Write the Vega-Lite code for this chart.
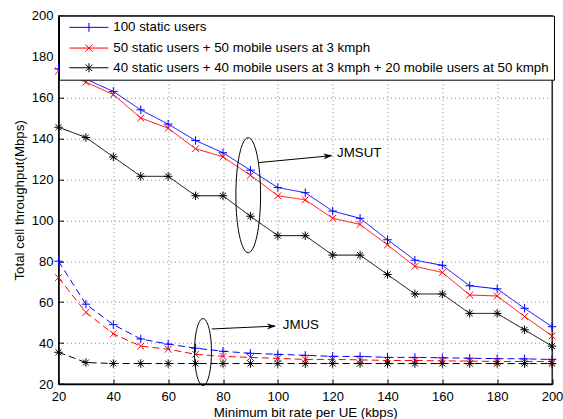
{
  "$schema": "https://vega.github.io/schema/vega-lite/v6.json",
  "width": 493.5,
  "height": 368.3,
  "autosize": {"type": "none"},
  "padding": {"left": 58.5, "top": 15.7, "right": 11, "bottom": 35},
  "background": "white",
  "config": {
    "font": "Liberation Sans",
    "view": {"stroke": "black", "strokeWidth": 1.3},
    "axis": {
      "domainColor": "black", "domainWidth": 1.3,
      "tickColor": "black", "tickSize": -5, "tickWidth": 1,
      "labelFont": "Liberation Sans", "labelFontSize": 13, "labelColor": "black",
      "titleFont": "Liberation Sans", "titleFontSize": 13.3, "titleFontWeight": "normal", "titleColor": "black",
      "gridColor": "#888888", "gridDash": [1, 3], "gridWidth": 1, "gridOpacity": 1
    },
    "legend": {"labelLimit": 700, "fillColor": "white", "strokeColor": "black"}
  },
  "datasets": {
    "series": [
      {"rate": 20, "throughput": 174, "config": "100 static users", "scheme": "JMSUT"},
      {"rate": 30, "throughput": 169, "config": "100 static users", "scheme": "JMSUT"},
      {"rate": 40, "throughput": 163, "config": "100 static users", "scheme": "JMSUT"},
      {"rate": 50, "throughput": 154, "config": "100 static users", "scheme": "JMSUT"},
      {"rate": 60, "throughput": 147, "config": "100 static users", "scheme": "JMSUT"},
      {"rate": 70, "throughput": 139, "config": "100 static users", "scheme": "JMSUT"},
      {"rate": 80, "throughput": 133, "config": "100 static users", "scheme": "JMSUT"},
      {"rate": 90, "throughput": 124.5, "config": "100 static users", "scheme": "JMSUT"},
      {"rate": 100, "throughput": 116, "config": "100 static users", "scheme": "JMSUT"},
      {"rate": 110, "throughput": 113.5, "config": "100 static users", "scheme": "JMSUT"},
      {"rate": 120, "throughput": 104.5, "config": "100 static users", "scheme": "JMSUT"},
      {"rate": 130, "throughput": 101, "config": "100 static users", "scheme": "JMSUT"},
      {"rate": 140, "throughput": 90.5, "config": "100 static users", "scheme": "JMSUT"},
      {"rate": 150, "throughput": 80.5, "config": "100 static users", "scheme": "JMSUT"},
      {"rate": 160, "throughput": 78, "config": "100 static users", "scheme": "JMSUT"},
      {"rate": 170, "throughput": 68, "config": "100 static users", "scheme": "JMSUT"},
      {"rate": 180, "throughput": 66.5, "config": "100 static users", "scheme": "JMSUT"},
      {"rate": 190, "throughput": 57, "config": "100 static users", "scheme": "JMSUT"},
      {"rate": 200, "throughput": 48, "config": "100 static users", "scheme": "JMSUT"},
      {"rate": 20, "throughput": 173, "config": "50 static users + 50 mobile users at 3 kmph", "scheme": "JMSUT"},
      {"rate": 30, "throughput": 167.5, "config": "50 static users + 50 mobile users at 3 kmph", "scheme": "JMSUT"},
      {"rate": 40, "throughput": 161.5, "config": "50 static users + 50 mobile users at 3 kmph", "scheme": "JMSUT"},
      {"rate": 50, "throughput": 150, "config": "50 static users + 50 mobile users at 3 kmph", "scheme": "JMSUT"},
      {"rate": 60, "throughput": 145, "config": "50 static users + 50 mobile users at 3 kmph", "scheme": "JMSUT"},
      {"rate": 70, "throughput": 135, "config": "50 static users + 50 mobile users at 3 kmph", "scheme": "JMSUT"},
      {"rate": 80, "throughput": 131, "config": "50 static users + 50 mobile users at 3 kmph", "scheme": "JMSUT"},
      {"rate": 90, "throughput": 122, "config": "50 static users + 50 mobile users at 3 kmph", "scheme": "JMSUT"},
      {"rate": 100, "throughput": 112, "config": "50 static users + 50 mobile users at 3 kmph", "scheme": "JMSUT"},
      {"rate": 110, "throughput": 110, "config": "50 static users + 50 mobile users at 3 kmph", "scheme": "JMSUT"},
      {"rate": 120, "throughput": 101, "config": "50 static users + 50 mobile users at 3 kmph", "scheme": "JMSUT"},
      {"rate": 130, "throughput": 98, "config": "50 static users + 50 mobile users at 3 kmph", "scheme": "JMSUT"},
      {"rate": 140, "throughput": 88, "config": "50 static users + 50 mobile users at 3 kmph", "scheme": "JMSUT"},
      {"rate": 150, "throughput": 77.5, "config": "50 static users + 50 mobile users at 3 kmph", "scheme": "JMSUT"},
      {"rate": 160, "throughput": 74.5, "config": "50 static users + 50 mobile users at 3 kmph", "scheme": "JMSUT"},
      {"rate": 170, "throughput": 63.5, "config": "50 static users + 50 mobile users at 3 kmph", "scheme": "JMSUT"},
      {"rate": 180, "throughput": 63, "config": "50 static users + 50 mobile users at 3 kmph", "scheme": "JMSUT"},
      {"rate": 190, "throughput": 53, "config": "50 static users + 50 mobile users at 3 kmph", "scheme": "JMSUT"},
      {"rate": 200, "throughput": 43.5, "config": "50 static users + 50 mobile users at 3 kmph", "scheme": "JMSUT"},
      {"rate": 20, "throughput": 145.5, "config": "40 static users + 40 mobile users at 3 kmph + 20 mobile users at 50 kmph", "scheme": "JMSUT"},
      {"rate": 30, "throughput": 140.5, "config": "40 static users + 40 mobile users at 3 kmph + 20 mobile users at 50 kmph", "scheme": "JMSUT"},
      {"rate": 40, "throughput": 131, "config": "40 static users + 40 mobile users at 3 kmph + 20 mobile users at 50 kmph", "scheme": "JMSUT"},
      {"rate": 50, "throughput": 121.5, "config": "40 static users + 40 mobile users at 3 kmph + 20 mobile users at 50 kmph", "scheme": "JMSUT"},
      {"rate": 60, "throughput": 121.5, "config": "40 static users + 40 mobile users at 3 kmph + 20 mobile users at 50 kmph", "scheme": "JMSUT"},
      {"rate": 70, "throughput": 112, "config": "40 static users + 40 mobile users at 3 kmph + 20 mobile users at 50 kmph", "scheme": "JMSUT"},
      {"rate": 80, "throughput": 112, "config": "40 static users + 40 mobile users at 3 kmph + 20 mobile users at 50 kmph", "scheme": "JMSUT"},
      {"rate": 90, "throughput": 102, "config": "40 static users + 40 mobile users at 3 kmph + 20 mobile users at 50 kmph", "scheme": "JMSUT"},
      {"rate": 100, "throughput": 92.5, "config": "40 static users + 40 mobile users at 3 kmph + 20 mobile users at 50 kmph", "scheme": "JMSUT"},
      {"rate": 110, "throughput": 92.5, "config": "40 static users + 40 mobile users at 3 kmph + 20 mobile users at 50 kmph", "scheme": "JMSUT"},
      {"rate": 120, "throughput": 83, "config": "40 static users + 40 mobile users at 3 kmph + 20 mobile users at 50 kmph", "scheme": "JMSUT"},
      {"rate": 130, "throughput": 83, "config": "40 static users + 40 mobile users at 3 kmph + 20 mobile users at 50 kmph", "scheme": "JMSUT"},
      {"rate": 140, "throughput": 73.5, "config": "40 static users + 40 mobile users at 3 kmph + 20 mobile users at 50 kmph", "scheme": "JMSUT"},
      {"rate": 150, "throughput": 64, "config": "40 static users + 40 mobile users at 3 kmph + 20 mobile users at 50 kmph", "scheme": "JMSUT"},
      {"rate": 160, "throughput": 64, "config": "40 static users + 40 mobile users at 3 kmph + 20 mobile users at 50 kmph", "scheme": "JMSUT"},
      {"rate": 170, "throughput": 54.5, "config": "40 static users + 40 mobile users at 3 kmph + 20 mobile users at 50 kmph", "scheme": "JMSUT"},
      {"rate": 180, "throughput": 54.5, "config": "40 static users + 40 mobile users at 3 kmph + 20 mobile users at 50 kmph", "scheme": "JMSUT"},
      {"rate": 190, "throughput": 46.5, "config": "40 static users + 40 mobile users at 3 kmph + 20 mobile users at 50 kmph", "scheme": "JMSUT"},
      {"rate": 200, "throughput": 38.5, "config": "40 static users + 40 mobile users at 3 kmph + 20 mobile users at 50 kmph", "scheme": "JMSUT"},
      {"rate": 20, "throughput": 80, "config": "100 static users", "scheme": "JMUS"},
      {"rate": 30, "throughput": 59, "config": "100 static users", "scheme": "JMUS"},
      {"rate": 40, "throughput": 49, "config": "100 static users", "scheme": "JMUS"},
      {"rate": 50, "throughput": 42, "config": "100 static users", "scheme": "JMUS"},
      {"rate": 60, "throughput": 39.5, "config": "100 static users", "scheme": "JMUS"},
      {"rate": 70, "throughput": 37.5, "config": "100 static users", "scheme": "JMUS"},
      {"rate": 80, "throughput": 36, "config": "100 static users", "scheme": "JMUS"},
      {"rate": 90, "throughput": 35, "config": "100 static users", "scheme": "JMUS"},
      {"rate": 100, "throughput": 34.5, "config": "100 static users", "scheme": "JMUS"},
      {"rate": 110, "throughput": 34, "config": "100 static users", "scheme": "JMUS"},
      {"rate": 120, "throughput": 33.5, "config": "100 static users", "scheme": "JMUS"},
      {"rate": 130, "throughput": 33.5, "config": "100 static users", "scheme": "JMUS"},
      {"rate": 140, "throughput": 33, "config": "100 static users", "scheme": "JMUS"},
      {"rate": 150, "throughput": 33, "config": "100 static users", "scheme": "JMUS"},
      {"rate": 160, "throughput": 32.8, "config": "100 static users", "scheme": "JMUS"},
      {"rate": 170, "throughput": 32.6, "config": "100 static users", "scheme": "JMUS"},
      {"rate": 180, "throughput": 32.4, "config": "100 static users", "scheme": "JMUS"},
      {"rate": 190, "throughput": 32.3, "config": "100 static users", "scheme": "JMUS"},
      {"rate": 200, "throughput": 32, "config": "100 static users", "scheme": "JMUS"},
      {"rate": 20, "throughput": 72, "config": "50 static users + 50 mobile users at 3 kmph", "scheme": "JMUS"},
      {"rate": 30, "throughput": 55, "config": "50 static users + 50 mobile users at 3 kmph", "scheme": "JMUS"},
      {"rate": 40, "throughput": 44.5, "config": "50 static users + 50 mobile users at 3 kmph", "scheme": "JMUS"},
      {"rate": 50, "throughput": 38.5, "config": "50 static users + 50 mobile users at 3 kmph", "scheme": "JMUS"},
      {"rate": 60, "throughput": 37, "config": "50 static users + 50 mobile users at 3 kmph", "scheme": "JMUS"},
      {"rate": 70, "throughput": 34.5, "config": "50 static users + 50 mobile users at 3 kmph", "scheme": "JMUS"},
      {"rate": 80, "throughput": 33.5, "config": "50 static users + 50 mobile users at 3 kmph", "scheme": "JMUS"},
      {"rate": 90, "throughput": 33, "config": "50 static users + 50 mobile users at 3 kmph", "scheme": "JMUS"},
      {"rate": 100, "throughput": 32.5, "config": "50 static users + 50 mobile users at 3 kmph", "scheme": "JMUS"},
      {"rate": 110, "throughput": 32, "config": "50 static users + 50 mobile users at 3 kmph", "scheme": "JMUS"},
      {"rate": 120, "throughput": 32, "config": "50 static users + 50 mobile users at 3 kmph", "scheme": "JMUS"},
      {"rate": 130, "throughput": 31.8, "config": "50 static users + 50 mobile users at 3 kmph", "scheme": "JMUS"},
      {"rate": 140, "throughput": 31.5, "config": "50 static users + 50 mobile users at 3 kmph", "scheme": "JMUS"},
      {"rate": 150, "throughput": 31.5, "config": "50 static users + 50 mobile users at 3 kmph", "scheme": "JMUS"},
      {"rate": 160, "throughput": 31.3, "config": "50 static users + 50 mobile users at 3 kmph", "scheme": "JMUS"},
      {"rate": 170, "throughput": 31.2, "config": "50 static users + 50 mobile users at 3 kmph", "scheme": "JMUS"},
      {"rate": 180, "throughput": 31, "config": "50 static users + 50 mobile users at 3 kmph", "scheme": "JMUS"},
      {"rate": 190, "throughput": 31, "config": "50 static users + 50 mobile users at 3 kmph", "scheme": "JMUS"},
      {"rate": 200, "throughput": 31, "config": "50 static users + 50 mobile users at 3 kmph", "scheme": "JMUS"},
      {"rate": 20, "throughput": 35.5, "config": "40 static users + 40 mobile users at 3 kmph + 20 mobile users at 50 kmph", "scheme": "JMUS"},
      {"rate": 30, "throughput": 30.5, "config": "40 static users + 40 mobile users at 3 kmph + 20 mobile users at 50 kmph", "scheme": "JMUS"},
      {"rate": 40, "throughput": 30, "config": "40 static users + 40 mobile users at 3 kmph + 20 mobile users at 50 kmph", "scheme": "JMUS"},
      {"rate": 50, "throughput": 30, "config": "40 static users + 40 mobile users at 3 kmph + 20 mobile users at 50 kmph", "scheme": "JMUS"},
      {"rate": 60, "throughput": 30, "config": "40 static users + 40 mobile users at 3 kmph + 20 mobile users at 50 kmph", "scheme": "JMUS"},
      {"rate": 70, "throughput": 30, "config": "40 static users + 40 mobile users at 3 kmph + 20 mobile users at 50 kmph", "scheme": "JMUS"},
      {"rate": 80, "throughput": 30, "config": "40 static users + 40 mobile users at 3 kmph + 20 mobile users at 50 kmph", "scheme": "JMUS"},
      {"rate": 90, "throughput": 30, "config": "40 static users + 40 mobile users at 3 kmph + 20 mobile users at 50 kmph", "scheme": "JMUS"},
      {"rate": 100, "throughput": 30, "config": "40 static users + 40 mobile users at 3 kmph + 20 mobile users at 50 kmph", "scheme": "JMUS"},
      {"rate": 110, "throughput": 30, "config": "40 static users + 40 mobile users at 3 kmph + 20 mobile users at 50 kmph", "scheme": "JMUS"},
      {"rate": 120, "throughput": 30, "config": "40 static users + 40 mobile users at 3 kmph + 20 mobile users at 50 kmph", "scheme": "JMUS"},
      {"rate": 130, "throughput": 30, "config": "40 static users + 40 mobile users at 3 kmph + 20 mobile users at 50 kmph", "scheme": "JMUS"},
      {"rate": 140, "throughput": 30, "config": "40 static users + 40 mobile users at 3 kmph + 20 mobile users at 50 kmph", "scheme": "JMUS"},
      {"rate": 150, "throughput": 30, "config": "40 static users + 40 mobile users at 3 kmph + 20 mobile users at 50 kmph", "scheme": "JMUS"},
      {"rate": 160, "throughput": 30, "config": "40 static users + 40 mobile users at 3 kmph + 20 mobile users at 50 kmph", "scheme": "JMUS"},
      {"rate": 170, "throughput": 30, "config": "40 static users + 40 mobile users at 3 kmph + 20 mobile users at 50 kmph", "scheme": "JMUS"},
      {"rate": 180, "throughput": 30, "config": "40 static users + 40 mobile users at 3 kmph + 20 mobile users at 50 kmph", "scheme": "JMUS"},
      {"rate": 190, "throughput": 30, "config": "40 static users + 40 mobile users at 3 kmph + 20 mobile users at 50 kmph", "scheme": "JMUS"},
      {"rate": 200, "throughput": 30, "config": "40 static users + 40 mobile users at 3 kmph + 20 mobile users at 50 kmph", "scheme": "JMUS"}
    ],
    "ellipseSUT": [{"rate": 89.2, "throughput": 112.3}],
    "ellipseUS": [{"rate": 72.7, "throughput": 35.6}],
    "arrowSUT": [{"rate": 92.9, "throughput": 128.2, "rate2": 119.6, "throughput2": 131.6}],
    "arrowUS": [{"rate": 75.9, "throughput": 46.9, "rate2": 99, "throughput2": 48.3}],
    "labels": [
      {"rate": 121.6, "throughput": 132.7, "label": "JMSUT"},
      {"rate": 101.8, "throughput": 48.8, "label": "JMUS"}
    ]
  },
  "layer": [
    {
      "data": {"name": "series"},
      "resolve": {"legend": {"color": "independent"}},
      "encoding": {
        "x": {
          "field": "rate", "type": "quantitative",
          "scale": {"domain": [20, 200], "nice": false},
          "axis": {"values": [20, 40, 60, 80, 100, 120, 140, 160, 180, 200], "title": "Minimum bit rate per UE (kbps)", "labelPadding": 11, "titlePadding": 2, "labelFlush": false}
        },
        "y": {
          "field": "throughput", "type": "quantitative",
          "scale": {"domain": [20, 200], "nice": false},
          "axis": {"values": [20, 40, 60, 80, 100, 120, 140, 160, 180, 200], "title": "Total cell throughput(Mbps)", "labelPadding": 10.5, "titlePadding": 5, "labelFlush": false}
        }
      },
      "layer": [
        {
          "mark": {"type": "line", "strokeWidth": 1},
          "encoding": {
            "color": {
              "field": "config", "type": "nominal",
              "scale": {
                "domain": ["100 static users", "50 static users + 50 mobile users at 3 kmph", "40 static users + 40 mobile users at 3 kmph + 20 mobile users at 50 kmph"],
                "range": ["#0000ff", "#ff0000", "#000000"]
              },
              "legend": null
            },
            "strokeDash": {"field": "scheme", "type": "nominal", "scale": {"domain": ["JMSUT", "JMUS"], "range": [[1, 0], [7, 4]]}, "legend": null}
          }
        },
        {
          "mark": {"type": "point", "filled": false, "size": 72, "strokeWidth": 1, "opacity": 1},
          "encoding": {
            "color": {
              "field": "config", "type": "nominal",
              "scale": {
                "domain": ["100 static users", "50 static users + 50 mobile users at 3 kmph", "40 static users + 40 mobile users at 3 kmph + 20 mobile users at 50 kmph"],
                "range": ["#0000ff", "#ff0000", "#000000"]
              },
              "legend": {
                "title": null, "orient": "none", "legendX": 0.5, "legendY": 0,
                "fillColor": "white", "strokeColor": "black", "padding": 5,
                "rowPadding": 5.7, "labelFontSize": 13.3, "labelFont": "Liberation Sans", "labelColor": "black",
                "labelLimit": 700, "symbolSize": 100, "symbolOffset": 18.3, "labelOffset": 17.7,
                "symbolStrokeWidth": 1,
                "symbolType": {"expr": "datum.value == '100 static users' ? 'M-3.9,0H3.9M0,-0.9V0.9' : (datum.value == '50 static users + 50 mobile users at 3 kmph' ? 'M-3.9,0H3.9M-0.7,-0.7L0.7,0.7M-0.7,0.7L0.7,-0.7' : 'M-3.9,0H3.9M0,-0.9V0.9M-0.65,-0.65L0.65,0.65M-0.65,0.65L0.65,-0.65')"}
              }
            },
            "shape": {
              "field": "config", "type": "nominal",
              "scale": {
                "domain": ["100 static users", "50 static users + 50 mobile users at 3 kmph", "40 static users + 40 mobile users at 3 kmph + 20 mobile users at 50 kmph"],
                "range": ["M-1,0H1M0,-1V1", "M-0.8,-0.8L0.8,0.8M-0.8,0.8L0.8,-0.8", "M-1,0H1M0,-1V1M-0.7,-0.7L0.7,0.7M-0.7,0.7L0.7,-0.7"]
              },
              "legend": null
            }
          }
        }
      ]
    },
    {
      "data": {"name": "ellipseSUT"},
      "mark": {"type": "point", "shape": "M0,-1A0.215,1,0,0,1,0,1A0.215,1,0,0,1,0,-1Z", "size": 13225, "filled": false, "stroke": "black", "strokeWidth": 1, "opacity": 1},
      "encoding": {
        "x": {"field": "rate", "type": "quantitative"},
        "y": {"field": "throughput", "type": "quantitative"}
      }
    },
    {
      "data": {"name": "ellipseUS"},
      "mark": {"type": "point", "shape": "M0,-1A0.254,1,0,0,1,0,1A0.254,1,0,0,1,0,-1Z", "size": 4489, "filled": false, "stroke": "black", "strokeWidth": 1, "opacity": 1},
      "encoding": {
        "x": {"field": "rate", "type": "quantitative"},
        "y": {"field": "throughput", "type": "quantitative"}
      }
    },
    {
      "data": {"name": "arrowSUT"},
      "layer": [
        {
          "mark": {"type": "rule", "stroke": "black", "strokeWidth": 1},
          "encoding": {
            "x": {"field": "rate", "type": "quantitative"},
            "y": {"field": "throughput", "type": "quantitative"},
            "x2": {"field": "rate2"},
            "y2": {"field": "throughput2"}
          }
        },
        {
          "mark": {"type": "point", "shape": "M0,0L-1,-0.33L-0.7,0L-1,0.33Z", "size": 225, "filled": true, "fill": "black", "stroke": "black", "strokeWidth": 0.5, "opacity": 1, "angle": 354.6},
          "encoding": {
            "x": {"field": "rate2", "type": "quantitative"},
            "y": {"field": "throughput2", "type": "quantitative"}
          }
        }
      ]
    },
    {
      "data": {"name": "arrowUS"},
      "layer": [
        {
          "mark": {"type": "rule", "stroke": "black", "strokeWidth": 1},
          "encoding": {
            "x": {"field": "rate", "type": "quantitative"},
            "y": {"field": "throughput", "type": "quantitative"},
            "x2": {"field": "rate2"},
            "y2": {"field": "throughput2"}
          }
        },
        {
          "mark": {"type": "point", "shape": "M0,0L-1,-0.33L-0.7,0L-1,0.33Z", "size": 225, "filled": true, "fill": "black", "stroke": "black", "strokeWidth": 0.5, "opacity": 1, "angle": 357.3},
          "encoding": {
            "x": {"field": "rate2", "type": "quantitative"},
            "y": {"field": "throughput2", "type": "quantitative"}
          }
        }
      ]
    },
    {
      "data": {"name": "labels"},
      "mark": {"type": "text", "align": "left", "baseline": "middle", "font": "Liberation Sans", "fontSize": 13.3, "color": "black"},
      "encoding": {
        "x": {"field": "rate", "type": "quantitative"},
        "y": {"field": "throughput", "type": "quantitative"},
        "text": {"field": "label"}
      }
    }
  ]
}
